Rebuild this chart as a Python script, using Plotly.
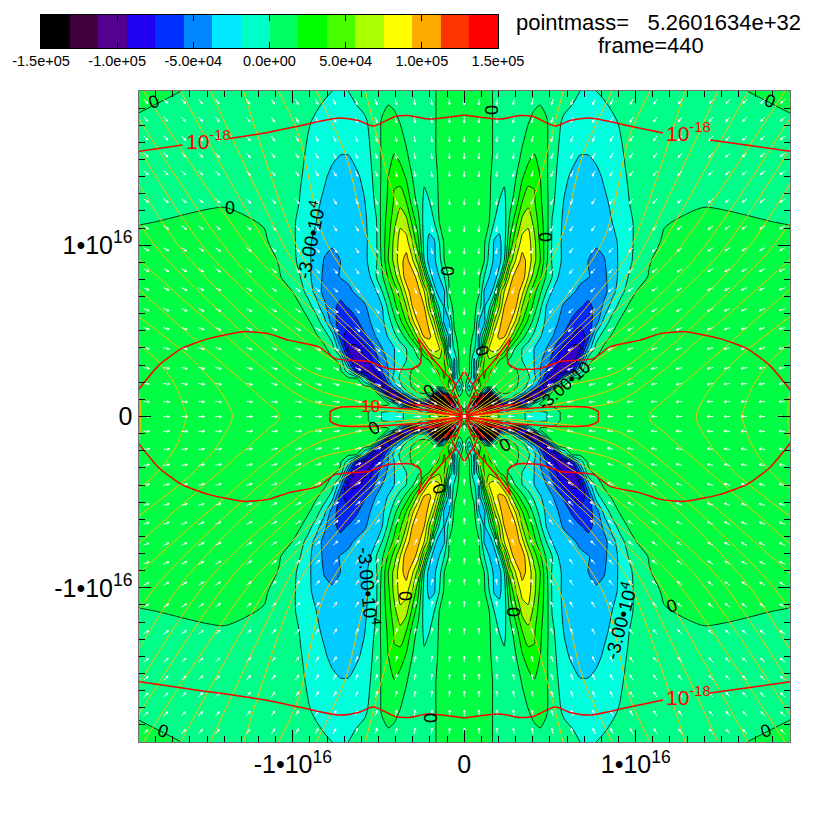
import math
import numpy as np
import plotly.graph_objects as go

# --- one quadrant of the velocity-like scalar (values in thousands) ---
grid_x = [0,5,10,15,20,25,30,35,40,46,52,58,64,70,76,82,88,94,100,108,116,124,132,140,148,156,164,172,185,200,240,326]
grid_y = [0,4,8,13,18,24,30,38,46,56,68,80,95,110,125,140,156,175,195,215,240,265,295,326]
field_k = [
[0,20,30,30,20,10,5,0,-8,-10,-12,-13,-17,-18,-18,-16,-8,-1,2,3,4,5,5,6,6,7,8,8,8,8,8,8],
[15,-30,30,80,100,50,10,-10,-15,-10,-12,-13,-17,-18,-18,-16,-8,-1,2,3,4,5,5,6,6,7,8,8,8,8,8,8],
[8,-50,-40,-100,-120,-100,-120,-80,-40,-20,-8,-5,-5,-5,-5,-4,-2,1,3,3,4,5,5,6,6,7,8,8,8,8,8,8],
[8,15,-100,-170,-170,-170,-150,-100,-60,-80,-120,-90,-50,-15,2,3,3,3,3,4,5,5,5,6,6,7,8,8,8,8,8,8],
[8,5,20,-150,-170,-170,-150,-40,-10,-15,-40,-80,-130,-100,-30,2,3,3,3,4,5,5,5,6,6,7,8,8,8,8,8,8],
[8,-10,15,10,-40,-100,-20,2,2,1,-5,-20,-50,-90,-120,-50,2,3,3,4,5,5,5,6,6,7,8,8,8,8,8,8],
[8,-34,10,35,12,6,4,3,2,2,1,-6,-20,-40,-70,-110,-60,2,3,4,5,5,6,7,8,8,8,8,8,8,8,8],
[8,-5,-34,30,30,12,6,4,3,3,2,-3,-12,-25,-45,-75,-105,-80,-30,3,4,5,6,7,8,8,8,8,8,8,8,8],
[8,2,-34,12,35,20,8,5,3,2,1,-5,-16,-30,-45,-60,-80,-100,-105,-75,-25,2,4,5,6,7,8,8,8,8,8,8],
[8,3,-34,3,30,42,30,15,4,-3,-8,-15,-22,-30,-42,-52,-65,-80,-95,-100,-60,-3,3,5,6,7,8,8,8,8,8,8],
[8,4,-12,-34,30,62,72,63,40,12,-4,-15,-22,-30,-37,-45,-56,-69,-82,-97,-92,-40,-8,3,5,6,7,8,8,8,8,8],
[8,5,-3,-36,0,40,68,78,77,50,23,5,-9,-19,-29,-36,-44,-54,-63,-75,-85,-68,-22,-6,2,4,7,8,8,8,8,8],
[8,6,3,-31,-36,7,45,70,82,78,55,30,12,-6,-21,-33,-38,-45,-52,-63,-70,-67,-53,-25,-8,2,5,7,8,8,8,8],
[8,7,5,-8,-32,-18,15,45,75,85,75,45,27,9,-11,-30,-35,-41,-47,-52,-59,-63,-57,-41,-23,-9,1,4,7,8,8,8],
[8,8,6,1,-32,-40,-22,35,60,80,86,65,38,20,3,-15,-31,-35,-39,-43,-48,-56,-59,-50,-36,-21,-9,0,5,8,8,8],
[8,8,7,3,-15,-30,-40,-20,22,66,85,85,60,37,18,-2,-15,-30,-34,-38,-42,-44,-50,-48,-38,-26,-15,-8,1,6,8,8],
[8,8,7,4.5,0,-21,-33,-37,-15,38,63,82,69,50,30,4,-17,-27,-33,-38,-42,-45,-47,-46,-37,-27,-19,-11,-1,6,8,8],
[8,8,7,5,2.5,-15,-32,-34,-22,18,45,66,66,50,26,7,-17,-27,-33,-38,-41,-43,-44,-41,-35,-27,-20,-12,-6,2,5,5],
[8,8,7,6,4,0,-15,-24,-22,5,26,50,57,40,22,7,-16,-27,-32,-37,-42,-44,-42,-36,-30,-24,-18,-13,-7,-1,4,-1],
[8,8,7,6,4,1,-4,-15.5,-18,-5,9,30,40,32,18,5,-11,-22,-31,-37,-42,-44,-40,-33,-27,-22,-16,-9,-6,-3,-1.5,-3],
[8,8,7,6,4,1.5,-3,-8,-13,-8,0,13,24,28,15,3,-9,-18,-26,-33,-37,-37,-34,-28,-23,-19,-14,-10,-8,-7,-6,-5],
[8,8,7,6,4,2,-1,-3,-4,-5,-5,1,7,14,8,2,-6,-15,-19,-24,-29,-29,-26,-23,-20,-17,-12,-9,-8,-7,-6,-4],
[8,8,7,6,4,2,-1,-3,-4,-5,-5,-5,-0.5,3,6,1.5,-5,-13,-17,-20,-22,-23,-22,-20,-17,-14,-11,-9,-8,-7,-6,-2],
[8,8,7,6,4,2,-1,-3,-4,-5,-5,-5,-5,-5,-5,-6,-7,-8,-9,-11,-15,-17,-15,-13,-11,-10,-9,-9,-8,-7,-5,5],
]
band_colors = ["#000000","#400040","#550090","#3300CC","#1000FF","#0028FF","#0088FF","#00CCFF","#00FFDD","#00FF88",
               "#00FF44","#00FF00","#44FF00","#AAFF00","#FFFF00","#FFBB00","#FF6600","#FF3300","#FF0000","#FF0000"]

# --- colour bar ---
bar_edges = [-150000,-131250,-112500,-93750,-75000,-56250,-37500,-18750,0,18750,37500,56250,75000,93750,112500,131250,150000]
bar_values = [-140625,-121875,-103125,-84375,-65625,-46875,-28125,-9375,9375,28125,46875,65625,84375,103125,121875,140625]
bar_colors = ["#000000","#400040","#550090","#2000F0","#0030FF","#0088FF","#00E8FF","#00FFC8",
              "#00FF60","#00FF00","#48FF00","#AAFF00","#FFFF00","#FFAA00","#FF3300","#FF0000"]
bar_ticks = [-150000,-100000,-50000,0,50000,100000,150000]
bar_ticktext = ["-1.5e+05","-1.0e+05","-5.0e+04","0.0e+00","5.0e+04","1.0e+05","1.5e+05"]

# --- orange field lines, one quadrant ---
field_lines = [
 ([2,20,46,68,99],[5,60,160,213,326]),
 ([3,25,51,96,119,148],[5,40,93,176,263,326]),
 ([5,49,79,139,166,186],[5,50,90,176,283,326]),
 ([5,25,63,93,135,163,221],[3,18,50,76,125,161,326]),
 ([6,28,66,100,150,175,254],[2.5,16,45,76,125,161,326]),
 ([6,30,70,106,176,191,284],[2,14,40,76,143,161,326]),
 ([8,50,100,156,209,321],[2,20,60,110,161,326]),
 ([8,50,100,156,233,330],[1.5,15,48,86,161,305]),
 ([9,50,100,156,254,330],[1,12,38,73,161,275]),
 ([9,50,100,156,278,330],[0.8,9,30,46,161,240]),
 ([10,50,100,156,301,330],[0.5,5,14,31,161,200]),
 ([10,50,100,156,250,330],[0.3,3,8,16,90,161]),
 ([185,187,199,219,256,330],[0,5,15,33,65,131]),
 ([232,233,246,273,330],[0,5,28,58,103]),
 ([278,279,289,309,330],[0,5,31,58,75]),
 ([324,324,326],[0,14,24]),
]

# --- red density contours, one quadrant ---
red_top_x = [0,36,56,69,91,106,126,163,199,235,246,282,330]
red_top_y = [302,298,301.5,300.5,291,296.5,299,291.5,284,278.5,277,272,265]
red_loop_x = [330,306,283,256,221,196,176,146,129,96,76,53,44,43,46,33,8,1,0]
red_loop_y = [22,51,68,78,85,83,76.5,70,58,55,48,47.5,53,66,78,60,33,44,44]
red_lobe_x = [20,36,63,96,125,134,134]
red_lobe_y = [3,6,8,10,9,5,0]
red_fans = [([2,12,20],[2,12,22]), ([2,30,52],[1,10,12]), ([2,35],[0.5,5]), ([2,8,14,8],[3,20,20,33])]

# --- white velocity arrows: grid (same offsets on both axes) and angles read per cell, degrees ---
arrow_grid = [0,15,33,50,69,89,109,131,149,169,193,218,249,266,283,301,321]
arrow_rows = [0,15,33,49,69,89,108,129,148,169,191,218,246,264,281,300,318]
arrow_deg = [
[0,0,0,0,0,0,0,0,0,0,0,0,0,0,0,0,0],
[90,45,24,17,12,10,8,7,6,5,4,4,3,3,3,3,3],
[90,66,45,33,26,20,17,14,13,11,10,9,8,7,7,6,6],
[90,73,56,44,35,29,24,20,18,16,14,13,11,10,10,9,9],
[90,78,64,54,45,38,32,28,25,22,20,18,15,15,14,13,12],
[90,80,70,61,52,45,39,34,31,28,25,22,20,18,17,16,15],
[90,82,73,65,57,50,45,40,36,33,29,26,23,22,21,20,19],
[90,83,76,69,62,55,50,45,41,37,34,31,27,26,25,23,22],
[90,84,78,71,65,59,54,48,45,41,37,34,31,29,28,26,25],
[90,85,79,74,68,62,57,52,49,45,41,38,34,32,31,29,28],
[90,86,80,75,70,65,60,56,52,48,45,41,38,36,34,32,31],
[90,86,81,77,72,68,63,59,56,52,48,45,41,39,38,36,34],
[90,87,82,78,74,70,66,62,59,56,52,48,45,43,41,39,37],
[90,87,83,79,75,71,68,64,61,57,54,50,47,45,43,41,39],
[90,87,83,80,76,72,69,65,62,59,56,52,48,47,45,43,41],
[90,87,84,80,77,73,70,66,64,61,57,54,50,48,47,45,43],
[90,87,84,81,77,74,71,68,65,62,59,56,52,50,48,47,45],
]

AXIS_MAX = 1.9e16
UNIT = AXIS_MAX / 326.0
W = 830.0
def px(v): return v / W
def py(v): return 1 - v / W

# mirror quadrant table to the full plane
gx = np.array(grid_x, float)
gy = np.array(grid_y, float)
q = np.array(field_k, float) * 1000
full_x = np.concatenate([-gx[:0:-1], gx]) * UNIT
full_y = np.concatenate([-gy[:0:-1], gy]) * UNIT
right = np.concatenate([q[:, :0:-1], q], axis=1)
full_z = np.concatenate([right[:0:-1, :], right], axis=0)

fig = go.Figure()
fig.add_trace(go.Contour(
    x=full_x, y=full_y, z=full_z, showscale=False, hoverinfo="skip",
    autocontour=False,
    contours=dict(start=-135000, end=135000, size=15000, coloring="fill", showlines=True),
    line=dict(color="black", width=0.8, smoothing=0.6),
    colorscale=[[i / 19, c] for i, c in enumerate(band_colors)],
))

def mirrored(xs, ys):
    ox, oy = [], []
    for sx in (1, -1):
        for sy in (1, -1):
            ox += [sx * a * UNIT for a in xs] + [None]
            oy += [sy * b * UNIT for b in ys] + [None]
    return ox, oy

for xs, ys in field_lines:
    a, b = mirrored(xs, ys)
    fig.add_trace(go.Scatter(x=a, y=b, mode="lines", hoverinfo="skip", showlegend=False,
                             line=dict(color="#F5C000", width=1, shape="spline", smoothing=0.8)))

# arrows
ax, ay = [], []
L = 6.0
for j, dy in enumerate(arrow_rows):
    for i, dx in enumerate(arrow_grid):
        if dx == 0 and dy == 0:
            continue
        t = math.radians(arrow_deg[j][i])
        for sx in ((1, -1) if dx else (1,)):
            for sy in ((1, -1) if dy else (1,)):
                ux, uy = -sx * math.cos(t), -sy * math.sin(t)
                x0, y0 = sx * dx, sy * dy
                x1, y1 = x0 + L * ux, y0 + L * uy
                bx1, by1 = x1 - 2.2 * ux + 1.0 * uy, y1 - 2.2 * uy - 1.0 * ux
                bx2, by2 = x1 - 2.2 * ux - 1.0 * uy, y1 - 2.2 * uy + 1.0 * ux
                for p in [(x0, y0), (x1, y1), (bx1, by1), (x1, y1), (bx2, by2)]:
                    ax.append(p[0] * UNIT); ay.append(p[1] * UNIT)
                ax.append(None); ay.append(None)
fig.add_trace(go.Scatter(x=ax, y=ay, mode="lines", hoverinfo="skip", showlegend=False,
                         line=dict(color="white", width=0.9)))

# red contours
def red_add(xs, ys, smooth=0.7):
    fig.add_trace(go.Scatter(x=xs, y=ys, mode="lines", hoverinfo="skip", showlegend=False,
                             line=dict(color="#FF0000", width=1.5, shape="spline", smoothing=smooth)))

def top_piece(sx, sy, gap):
    xs, ys = [], []
    for a, b in zip(red_top_x, red_top_y):
        if gap and gap[0] < a < gap[1]:
            xs.append(None); ys.append(None)
            continue
        xs.append(sx * a * UNIT); ys.append(sy * b * UNIT)
    return xs, ys

for sx, sy, gap in [(1, 1, (199, 246)), (-1, 1, (235, 282)), (1, -1, (199, 246)), (-1, -1, None)]:
    xs, ys = top_piece(sx, sy, gap)
    red_add(xs, ys)
a, b = mirrored(red_loop_x, red_loop_y); red_add(a, b, 0.5)
a, b = mirrored(red_lobe_x, red_lobe_y); red_add(a, b, 0.6)
for xs, ys in red_fans:
    a, b = mirrored(xs, ys); red_add(a, b, 0.3)
fig.add_trace(go.Scatter(x=[0], y=[0], mode="markers", hoverinfo="skip", showlegend=False,
                         marker=dict(symbol="square", size=4, color="white", line=dict(color="#FF0000", width=1))))

# colour bar
fig.add_trace(go.Heatmap(
    x=bar_edges, y=[0, 1], z=[bar_values], xaxis="x2", yaxis="y2", showscale=False, hoverinfo="skip",
    zmin=-150000, zmax=150000,
    colorscale=[p for i, c in enumerate(bar_colors) for p in ([i / 16, c], [(i + 1) / 16, c])],
))

ttext = ["-1•10<sup>16</sup>", "0", "1•10<sup>16</sup>"]
axis_common = dict(
    range=[-AXIS_MAX, AXIS_MAX], tickmode="array", tickvals=[-1e16, 0, 1e16], ticktext=ttext, automargin=False,
    ticks="inside", ticklen=12, tickcolor="black", tickwidth=1,
    minor=dict(dtick=1e15, tick0=0, ticks="inside", ticklen=6, tickcolor="black", tickwidth=1, showgrid=False),
    showline=True, linecolor="#707070", linewidth=1, mirror="ticks", showgrid=False, zeroline=False,
    tickfont=dict(family="Liberation Sans", size=25, color="black"),
)
fig.update_layout(
    width=830, height=830, margin=dict(l=0, r=0, t=0, b=0), paper_bgcolor="white", plot_bgcolor="white",
    showlegend=False,
    xaxis=dict(domain=[px(138.5), px(790)], anchor="y", **axis_common),
    yaxis=dict(domain=[py(742), py(91)], anchor="x", **axis_common),
    xaxis2=dict(domain=[px(41), px(498)], anchor="y2", range=[-150000, 150000], tickmode="array", automargin=False,
                tickvals=bar_ticks, ticktext=bar_ticktext, ticks="inside", ticklen=6, tickcolor="black",
                showline=True, linecolor="black", mirror="ticks", showgrid=False, zeroline=False,
                tickfont=dict(family="Liberation Sans", size=14.5, color="black")),
    yaxis2=dict(domain=[py(48), py(15)], anchor="x2", range=[0, 1], showticklabels=False, ticks="", automargin=False,
                showline=True, linecolor="black", mirror=True, showgrid=False, zeroline=False),
)

def label(text, x, y, size=18, color="black", angle=0):
    fig.add_annotation(xref="paper", yref="paper", x=px(x), y=py(y), text=text, showarrow=False,
                       textangle=angle, font=dict(family="Liberation Sans", size=size, color=color),
                       xanchor="center", yanchor="middle")

label("pointmass=&#160;&#160;&#160;5.2601634e+32", 658, 23, 22)
label("frame=440", 651, 45, 22)

zero_labels = [(491,110,90),(545,237,90),(447,271,90),(482,351,70),(154,102,-20),(230,208,0),(770,101,20),
               (430,718,90),(163,731,20),(766,731,-20),(672,606,-20),(513,612,90),(405,596,90),
               (439,489,70),(374,428,-30),(429,391,-30),(505,445,-30)]
for x, y, a in zero_labels:
    label("0", x, y, 18, angle=a)
label("-3.00•10<sup>4</sup>", 310, 240, 19, angle=-78)
label("-3.00•10<sup>4</sup>", 369, 586, 19, angle=85)
label("-3.00•10<sup>4</sup>", 620, 621, 19, angle=-75)
label("-3.00•10", 565, 386, 17, angle=-42)
label("10<sup>-18</sup>", 688, 132, 21, "#FF0000")
label("10<sup>-18</sup>", 208, 140, 21, "#FF0000")
label("10<sup>-18</sup>", 688, 696, 21, "#FF0000")
label("10", 370, 407, 17, "#FF0000")

fig.write_html("out.html", config=dict(displayModeBar=False),
               post_script="document.body.style.margin='0';document.body.style.overflow='hidden';")
